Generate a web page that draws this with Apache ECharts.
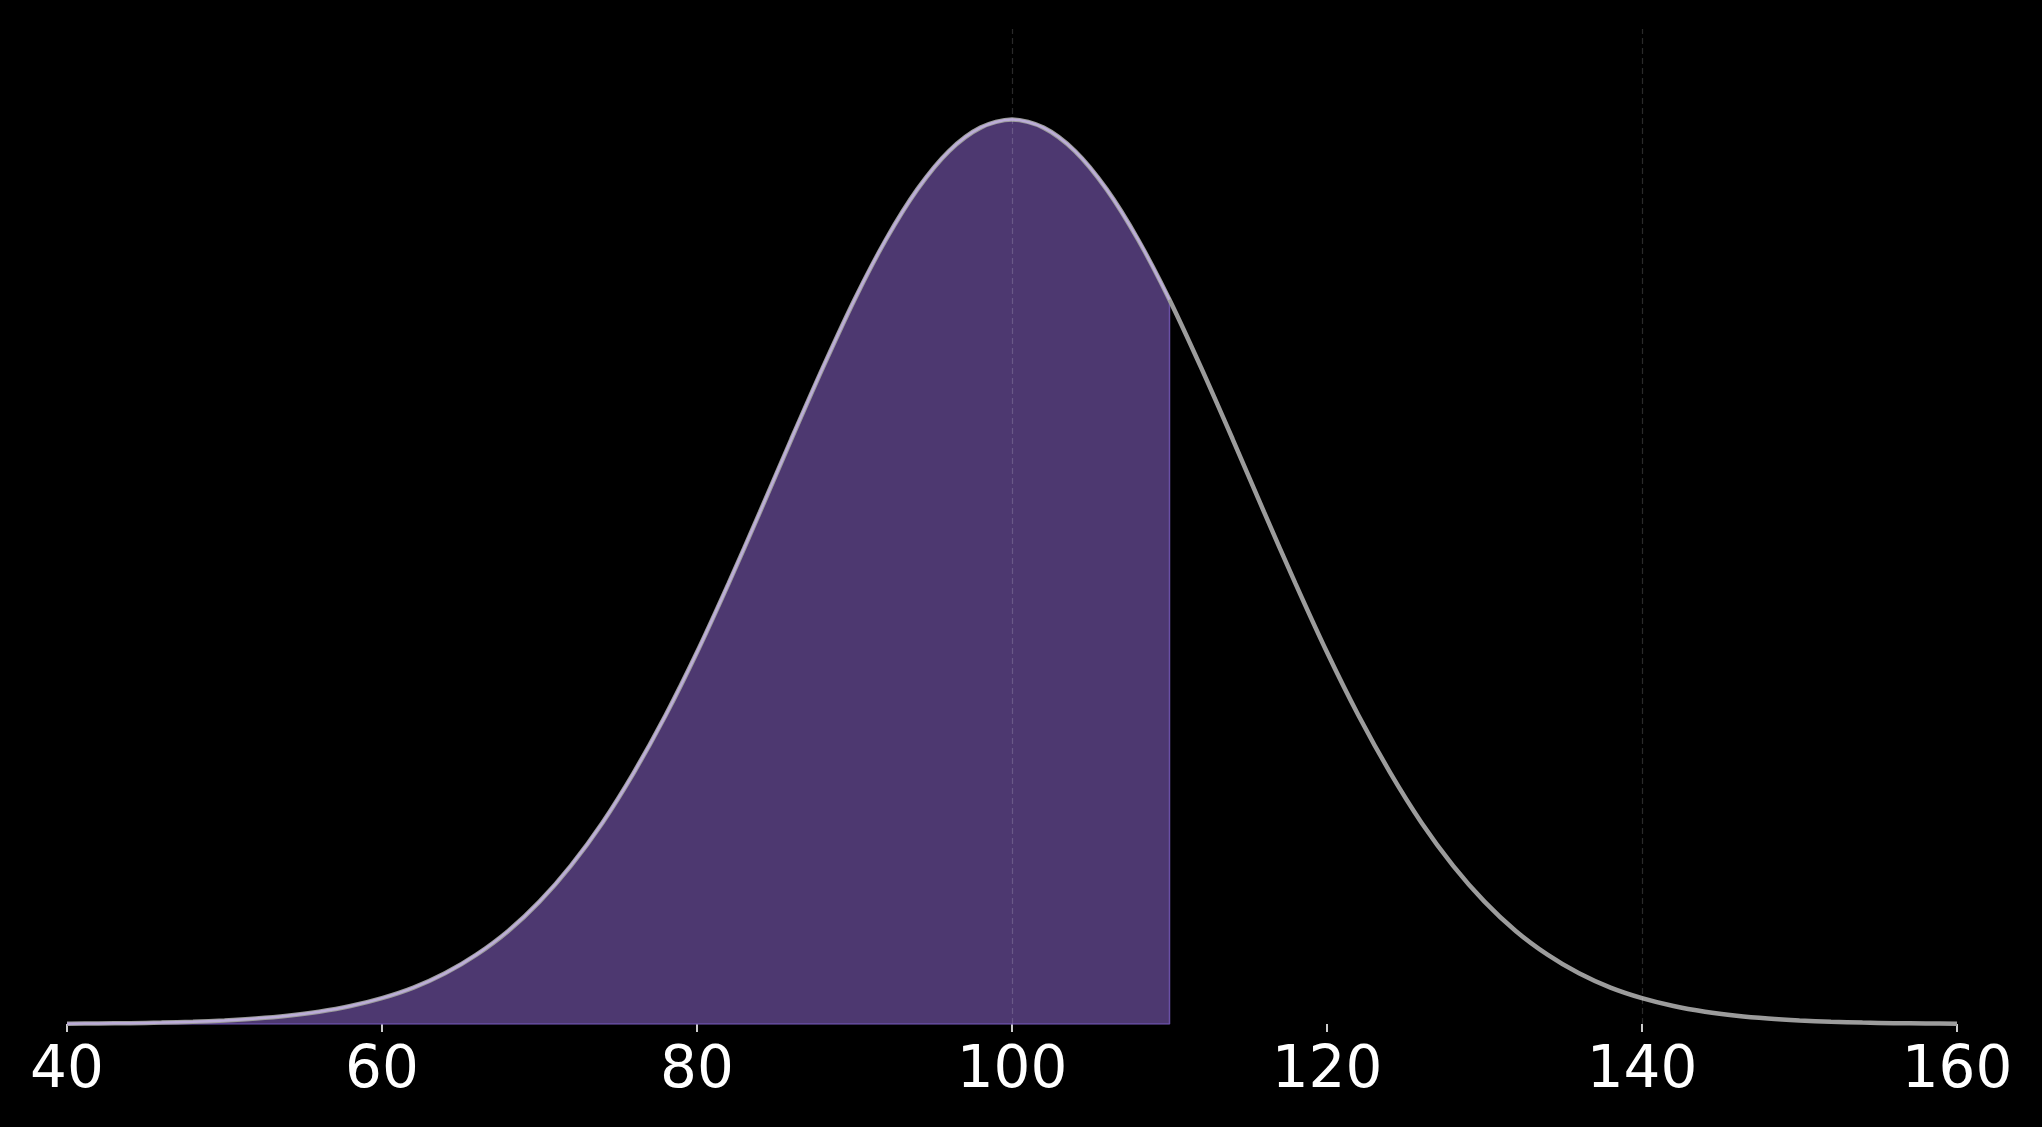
<!DOCTYPE html>
<html>
<head>
<meta charset="utf-8">
<script src="https://cdn.jsdelivr.net/npm/echarts@6/dist/echarts.min.js"></script>
<style>
html,body{margin:0;padding:0;background:#000;}
#c{width:2042px;height:1127px;}
</style>
</head>
<body>
<div id="c"></div>
<script>
// x positions of the curve samples
const xValues = [40,42,44,46,48,50,52,54,56,58,60,62,64,66,68,70,72,74,76,78,80,82,84,86,88,90,92,94,96,98,100,
  102,104,106,108,110,112,114,116,118,120,122,124,126,128,130,132,134,136,138,140,142,144,146,148,150,152,154,156,158,160];
// density
const densityValues = [0.0000089,0.0000151,0.0000250,0.0000408,0.0000653,0.000103,0.000159,0.000241,0.000360,0.000528,
  0.000760,0.00107,0.00149,0.00204,0.00273,0.00360,0.00466,0.00592,0.00740,0.00907,
  0.01093,0.01295,0.01506,0.01721,0.01931,0.02130,0.02307,0.02455,0.02567,0.02636,0.02660,
  0.02636,0.02567,0.02455,0.02307,0.02130,0.01931,0.01721,0.01506,0.01295,0.01093,
  0.00907,0.00740,0.00592,0.00466,0.00360,0.00273,0.00204,0.00149,0.00107,0.000760,
  0.000528,0.000360,0.000241,0.000159,0.000103,0.0000653,0.0000408,0.0000250,0.0000151,0.0000089];
const shadeEnd = 110;
const verticalLines = [100, 140];
const tickLabels = [40, 60, 80, 100, 120, 140, 160];

const curve = xValues.map((x, i) => [x, densityValues[i]]);
const shaded = curve.filter(p => p[0] <= shadeEnd);
const endValue = shaded[shaded.length - 1][1];
const edge = [[xValues[0], 0], [shadeEnd, 0], [shadeEnd, endValue]];
const yMax = Math.max(...densityValues) * 1.1;

const chart = echarts.init(document.getElementById('c'), null, {renderer: 'canvas'});
chart.setOption({
  backgroundColor: '#000000',
  animation: false,
  grid: {left: 67, right: 85, top: 29, bottom: 103},
  xAxis: {
    type: 'value', min: 40, max: 160, interval: 20,
    axisLine: {show: false},
    axisTick: {show: true, length: 8, lineStyle: {color: '#cccccc', width: 2}},
    splitLine: {show: false},
    axisLabel: {
      color: '#ffffff', fontSize: 58, fontFamily: 'DejaVu Sans', margin: 19,
      formatter: v => tickLabels.includes(v) ? String(v) : ''
    }
  },
  yAxis: {type: 'value', min: 0, max: yMax, show: false},
  series: [
    {
      type: 'line', data: shaded, showSymbol: false, smooth: 0.3, z: 2,
      lineStyle: {width: 0, opacity: 0},
      areaStyle: {color: '#4d3870', opacity: 1}
    },
    {
      type: 'line', data: edge, showSymbol: false, z: 3,
      lineStyle: {color: '#6a50a6', width: 1.5}
    },
    {
      type: 'line', data: curve, showSymbol: false, smooth: 0.3, z: 4,
      lineStyle: {color: '#9c9c9c', width: 4.5}
    },
    {
      type: 'line', data: shaded, showSymbol: false, smooth: 0.3, z: 5,
      lineStyle: {color: '#bcadd8', width: 2.5}
    },
    {
      type: 'line', data: [], z: 6,
      markLine: {
        silent: true, symbol: 'none', label: {show: false},
        lineStyle: {color: 'rgba(255,255,255,0.16)', type: [6, 4], width: 1.2},
        data: verticalLines.map(v => ({xAxis: v}))
      }
    }
  ]
});
</script>
</body>
</html>
